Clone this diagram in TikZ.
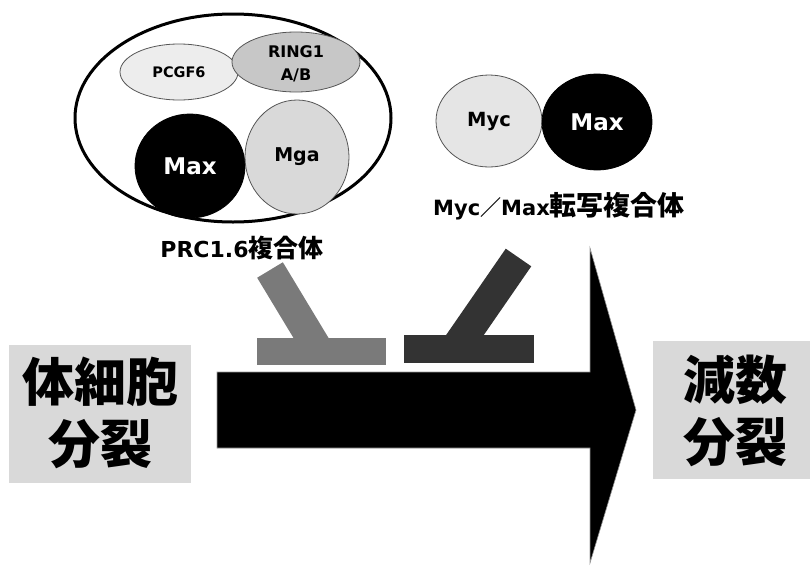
\documentclass[tikz,border=0pt]{standalone}
\usepackage{fontspec}
\setmainfont{DejaVu Sans}
\newfontfamily\jp{Noto Sans CJK JP}
\usetikzlibrary{shapes.geometric}
\definecolor{boxgray}{HTML}{D9D9D9}
\definecolor{inhA}{HTML}{7A7A7A}
\definecolor{inhB}{HTML}{333333}
\definecolor{edge}{HTML}{555555}
\tikzset{
  prot/.style={ellipse, draw=edge, line width=0.8pt, inner sep=0pt, font=\bfseries},
  lbl/.style={inner sep=0pt, font=\bfseries},
  stage/.style={rectangle, fill=boxgray, inner sep=0pt},
  stagetext/.style={inner sep=0pt, align=center, font=\jp\bfseries\fontsize{52}{62}\selectfont},
  inhbar/.style={rectangle, inner sep=0pt},
}
\begin{document}
\begin{tikzpicture}[x=1pt,y=-1pt]
\useasboundingbox (0,0) rectangle (810,565);
% PRC1.6 complex
\node[ellipse, draw=black, line width=3pt, minimum width=316pt, minimum height=208pt, inner sep=0pt] (prc) at (233,118) {};
\node[prot, fill=black!7, minimum width=118pt, minimum height=56pt, font=\bfseries\fontsize{14.5}{17}\selectfont] (pcgf) at (179,72) {PCGF6};
\node[prot, fill=black!22, minimum width=128pt, minimum height=60pt] (ring) at (296,62) {};
\node[lbl, align=center, font=\bfseries\fontsize{16}{23}\selectfont] (ringt) at (296,64) {RING1\\A/B};
\node[prot, draw=black, fill=black, text=white, minimum width=110pt, minimum height=104pt, font=\bfseries\fontsize{23}{27}\selectfont] (max1) at (190,166) {Max};
\node[prot, fill=black!15, minimum width=104pt, minimum height=114pt, font=\bfseries\fontsize{19}{23}\selectfont] (mga) at (297,157) {Mga};
\node[lbl, font=\bfseries\fontsize{22}{26}\selectfont] (prclbl) at (242,248) {PRC1.6{\jp\fontsize{25}{26}\selectfont 複合体}};
% Myc/Max complex
\node[prot, fill=black!10, minimum width=106pt, minimum height=92pt, font=\bfseries\fontsize{19.5}{23}\selectfont] (myc) at (489,121) {Myc};
\node[prot, draw=black, fill=black, text=white, minimum width=110pt, minimum height=96pt, font=\bfseries\fontsize{23}{27}\selectfont] (max2) at (597,122) {Max};
\node[lbl, font=\bfseries\fontsize{21}{26}\selectfont] (myclbl) at (559,206) {Myc{\jp ／}Max{\jp\fontsize{27}{28}\selectfont 転写複合体}};
% main arrow
\path[fill=black, draw=black!40, line width=0.6pt]
  (217,372) -- (590,372) -- (590,248) -- (636,410) -- (590,563) -- (590,448) -- (217,448) -- cycle;
% stages
\node[stage, minimum width=182pt, minimum height=138pt] (soma) at (100,414) {};
\node[stagetext] (somat) at (100,413) {体細胞\\分裂};
\node[stage, minimum width=157pt, minimum height=138pt] (meio) at (731.5,410) {};
\node[stagetext] (meiot) at (735,411) {減数\\分裂};
% inhibitor from PRC1.6
\coordinate (inhAtop) at (270,270);
\node[inhbar, fill=inhA, minimum width=129pt, minimum height=27pt] (barA) at (321.5,351.5) {};
\draw[inhA, line width=30pt] (inhAtop) -- (319.5,352);
\node[inhbar, fill=inhA, minimum width=129pt, minimum height=27pt] at (barA) {};
% inhibitor from Myc/Max
\coordinate (inhBtop) at (518.5,257.5);
\node[inhbar, fill=inhB, minimum width=130pt, minimum height=28pt] (barB) at (469,349) {};
\draw[inhB, line width=31pt] (inhBtop) -- (454.6,350);
\node[inhbar, fill=inhB, minimum width=130pt, minimum height=28pt] at (barB) {};
\end{tikzpicture}
\end{document}
